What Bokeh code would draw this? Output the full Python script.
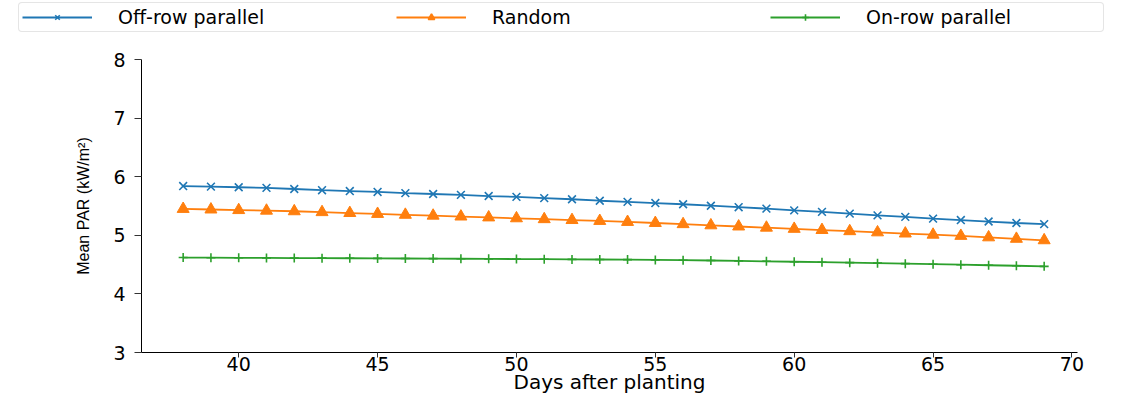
from bokeh.plotting import figure
from bokeh.layouts import column
from bokeh.models import Legend, LegendItem, Range1d, FixedTicker
from bokeh.embed import file_html
from bokeh.resources import INLINE

days = [38, 39, 40, 41, 42, 43, 44, 45, 46, 47, 48, 49, 50, 51, 52, 53,
        54, 55, 56, 57, 58, 59, 60, 61, 62, 63, 64, 65, 66, 67, 68, 69]
off_row = [5.84, 5.83, 5.82, 5.81, 5.79, 5.77, 5.755, 5.74, 5.72, 5.705, 5.69, 5.67,
           5.655, 5.635, 5.615, 5.59, 5.57, 5.55, 5.53, 5.505, 5.48, 5.455, 5.425, 5.40,
           5.37, 5.34, 5.315, 5.285, 5.26, 5.235, 5.21, 5.19]
random_ = [5.45, 5.44, 5.43, 5.42, 5.41, 5.395, 5.38, 5.365, 5.35, 5.335, 5.32, 5.305,
           5.29, 5.275, 5.26, 5.245, 5.228, 5.21, 5.19, 5.17, 5.15, 5.13, 5.11, 5.09,
           5.07, 5.05, 5.03, 5.01, 4.99, 4.965, 4.94, 4.915]
on_row = [4.62, 4.618, 4.616, 4.614, 4.612, 4.61, 4.608, 4.606, 4.604, 4.602, 4.60, 4.598,
          4.595, 4.592, 4.589, 4.587, 4.585, 4.58, 4.575, 4.57, 4.563, 4.556, 4.549, 4.541,
          4.533, 4.525, 4.516, 4.507, 4.498, 4.489, 4.48, 4.47]
series_names = ["Off-row parallel", "Random", "On-row parallel"]
x_ticks = [40, 45, 50, 55, 60, 65, 70]
y_ticks = [3, 4, 5, 6, 7, 8]

blue, orange, green = "#1f77b4", "#ff7f0e", "#2ca02c"
W, H = 1120, 396
LEG_H = 36
TOP, BOTTOM, LEFT, RIGHT = 59 - LEG_H, 43, 141, 43

# ---- legend strip (its own figure, frame spanning the whole strip) ----
leg = figure(width=W, height=LEG_H, output_backend="svg", toolbar_location=None,
             x_range=Range1d(0, 1), y_range=Range1d(0, 1),
             x_axis_type=None, y_axis_type=None, min_border=0)
if "frame_align" in leg.properties():
    leg.frame_align = False
leg.outline_line_color = None
leg.grid.visible = False
styles = [dict(color=blue, marker="x", size=11),
          dict(color=orange, marker="triangle", size=12),
          dict(color=green, marker="cross", size=10)]
items = []
for name, st in zip(series_names, styles):
    # off-screen sample so that the legend can draw its glyph
    lr = leg.line([-5, -4], [-5, -5], color=st["color"], line_width=1.8)
    mr = leg.scatter([-5], [-5], marker=st["marker"], size=st["size"], line_color=st["color"],
                     fill_color=st["color"], line_width=1.6)
    items.append(LegendItem(label=name, renderers=[lr, mr]))
legend = Legend(items=items, orientation="horizontal", location=(18, LEG_H - 32),
                glyph_width=70, glyph_height=16, label_standoff=26,
                label_width=234, label_height=16, spacing=44, padding=3, margin=0,
                label_text_font="DejaVu Sans", label_text_font_size="19px",
                label_text_color="black",
                border_line_color="#cccccc", border_line_width=1,
                background_fill_color="white", background_fill_alpha=1.0)
if "border_radius" in Legend.properties():
    legend.border_radius = 4
leg.add_layout(legend, "center")

# ---- main plot ----
p = figure(width=W, height=H - LEG_H, output_backend="svg", toolbar_location=None,
           x_range=Range1d(36.5, 70.2), y_range=Range1d(3, 8),
           min_border_left=LEFT, min_border_right=RIGHT, min_border_top=TOP,
           min_border_bottom=BOTTOM)
if "frame_align" in p.properties():
    p.frame_align = False
p.outline_line_color = None
p.grid.visible = False
p.background_fill_color = "white"
p.border_fill_color = "white"

p.line(days, off_row, color=blue, line_width=1.8)
p.scatter(days, off_row, marker="x", size=11, line_color=blue, line_width=1.6)
p.line(days, random_, color=orange, line_width=1.8)
p.scatter(days, random_, marker="triangle", size=12, fill_color=orange, line_color=orange)
p.line(days, on_row, color=green, line_width=1.8)
p.scatter(days, on_row, marker="cross", size=9, line_color=green, line_width=1.6)

xa = p.xaxis[0]
xa.ticker = FixedTicker(ticks=x_ticks)
xa.minor_tick_line_color = None
xa.major_tick_out = 5
xa.major_tick_in = 0
xa.major_label_standoff = -1
xa.major_label_text_font = "DejaVu Sans"
xa.major_label_text_font_size = "19px"
xa.major_label_text_color = "black"
xa.axis_label = "Days after planting"
xa.axis_label_text_font = "DejaVu Sans"
xa.axis_label_text_font_size = "20px"
xa.axis_label_text_font_style = "normal"
xa.axis_label_text_color = "black"
xa.axis_label_standoff = -4
xa.axis_line_color = "black"
xa.major_tick_line_color = "#333333"

ya = p.yaxis[0]
ya.ticker = FixedTicker(ticks=y_ticks)
ya.minor_tick_line_color = None
ya.major_tick_out = 7
ya.major_tick_in = 0
ya.major_label_standoff = 9
ya.major_label_text_font = "DejaVu Sans"
ya.major_label_text_font_size = "19px"
ya.major_label_text_color = "black"
ya.axis_label = "Mean PAR (kW/m²)"
ya.axis_label_text_font = "Liberation Sans"
ya.axis_label_text_font_size = "16px"
ya.axis_label_text_font_style = "normal"
ya.axis_label_text_color = "black"
ya.axis_label_standoff = 18
ya.axis_line_color = "black"
ya.major_tick_line_color = "#333333"

layout = column(leg, p, spacing=0)
open("out.html", "w").write(file_html(layout, INLINE))
